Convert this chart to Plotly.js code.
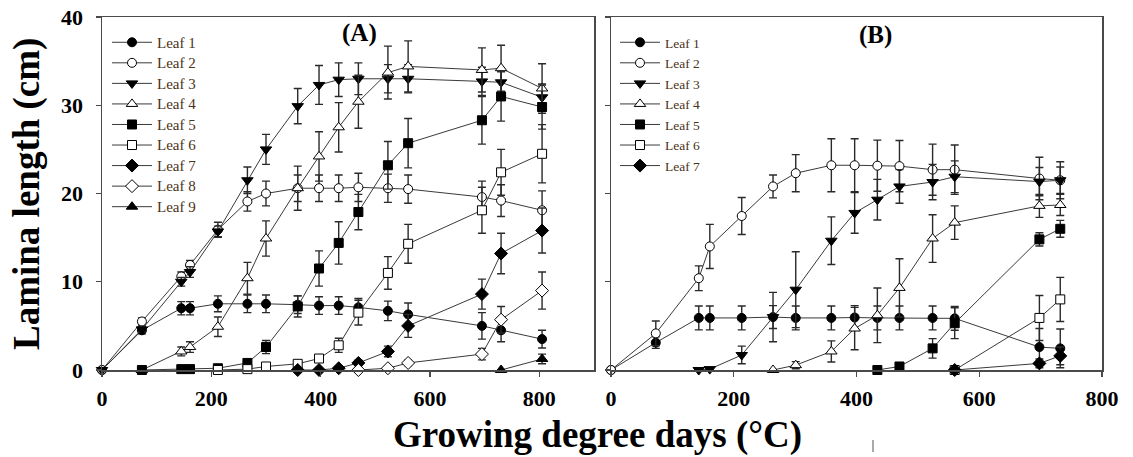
<!DOCTYPE html>
<html>
<head>
<meta charset="utf-8">
<script src="https://cdn.plot.ly/plotly-3.0.1.min.js"></script>
<style>
  html, body { margin: 0; padding: 0; background: #fff; }
  #chart { width: 1133px; height: 457px; }
</style>
</head>
<body>
<div id="chart"></div>
<script>
// Lamina length (cm) of successive leaves against growing degree days (°C)
// Panel A and panel B; values are means, errors are half-widths of the bars.

const leafNames = ["Leaf 1", "Leaf 2", "Leaf 3", "Leaf 4", "Leaf 5", "Leaf 6", "Leaf 7", "Leaf 8", "Leaf 9"];

// ---- Panel A ----
const aLeaf1X = [0, 73, 145, 161, 212, 266, 300, 358, 397, 433, 469, 523, 560, 695, 730, 805];
const aLeaf1Y = [0, 4.5, 7.0, 7.0, 7.5, 7.5, 7.5, 7.4, 7.3, 7.3, 7.1, 6.7, 6.3, 5.0, 4.5, 3.5];
const aLeaf1E = [0, 0.4, 0.75, 0.75, 0.9, 1.0, 1.0, 1.0, 1.0, 1.0, 1.0, 1.1, 1.3, 1.5, 1.3, 1.0];

const aLeaf2X = [0, 73, 145, 161, 212, 266, 300, 358, 397, 433, 469, 523, 560, 695, 730, 805];
const aLeaf2Y = [0, 5.5, 10.6, 11.9, 15.9, 19.1, 20.0, 20.6, 20.6, 20.6, 20.7, 20.6, 20.5, 19.6, 19.2, 18.1];
const aLeaf2E = [0, 0.4, 0.5, 0.5, 0.85, 1.1, 1.4, 1.5, 1.5, 1.5, 1.6, 1.6, 1.6, 1.8, 1.8, 2.2];

const aLeaf3X = [0, 73, 145, 161, 212, 266, 300, 358, 397, 433, 469, 523, 560, 695, 730, 805];
const aLeaf3Y = [0, 4.6, 10.0, 11.1, 15.7, 21.5, 25.0, 29.9, 32.3, 32.9, 33.0, 33.0, 33.0, 32.7, 32.6, 30.9];
const aLeaf3E = [0, 0.3, 0.5, 0.6, 0.6, 1.5, 1.7, 2.0, 2.2, 1.9, 1.8, 1.6, 1.6, 1.6, 1.6, 1.5];

const aLeaf4X = [73, 145, 161, 212, 266, 300, 358, 397, 433, 469, 523, 560, 695, 730, 805];
const aLeaf4Y = [0, 2.1, 2.6, 4.9, 10.4, 14.9, 20.6, 24.2, 27.5, 30.4, 33.7, 34.4, 34.0, 34.2, 31.9];
const aLeaf4E = [0, 0.5, 0.6, 1.1, 1.8, 2.0, 2.5, 2.8, 2.8, 3.0, 3.0, 2.9, 2.5, 2.6, 2.8];

const aLeaf5X = [73, 145, 161, 212, 266, 300, 358, 397, 433, 469, 523, 560, 695, 730, 805];
const aLeaf5Y = [0, 0.1, 0.1, 0.2, 0.8, 2.6, 7.2, 11.5, 14.4, 17.9, 23.2, 25.7, 28.3, 31.0, 29.8];
const aLeaf5E = [0, 0, 0, 0.1, 0.3, 0.75, 1.2, 2.0, 2.4, 2.0, 2.7, 2.8, 2.7, 2.8, 2.5];

const aLeaf6X = [212, 266, 300, 358, 397, 433, 469, 523, 560, 695, 730, 805];
const aLeaf6Y = [0, 0.1, 0.4, 0.7, 1.3, 2.8, 6.5, 11.0, 14.3, 18.1, 22.4, 24.5];
const aLeaf6E = [0, 0.1, 0.2, 0.3, 0.4, 0.8, 1.4, 1.85, 2.2, 2.6, 2.6, 3.3];

const aLeaf7X = [358, 397, 433, 469, 523, 560, 695, 730, 805];
const aLeaf7Y = [0, 0, 0.2, 0.8, 2.1, 5.0, 8.6, 13.2, 15.8];
const aLeaf7E = [0, 0, 0.1, 0.3, 0.6, 1.3, 1.7, 2.3, 2.55];

const aLeaf8X = [469, 523, 560, 695, 730, 805];
const aLeaf8Y = [0, 0.2, 0.8, 1.8, 5.7, 9.0];
const aLeaf8E = [0, 0.1, 0.3, 0.65, 1.5, 2.1];

const aLeaf9X = [730, 805];
const aLeaf9Y = [0, 1.25];
const aLeaf9E = [0, 0.55];

// ---- Panel B ----
const bLeaf1X = [0, 73, 143, 161, 213, 264, 301, 359, 397, 434, 470, 524, 560, 698, 732];
const bLeaf1Y = [0, 3.1, 5.9, 5.9, 5.9, 6.0, 5.9, 5.9, 5.95, 5.9, 5.9, 5.9, 5.85, 2.6, 2.45];
const bLeaf1E = [0, 0.65, 1.35, 1.35, 1.35, 1.3, 1.35, 1.35, 1.35, 1.35, 1.35, 1.35, 1.35, 2.1, 2.2];

const bLeaf2X = [0, 73, 143, 161, 213, 264, 301, 359, 397, 434, 470, 524, 560, 698, 732];
const bLeaf2Y = [0, 4.15, 10.4, 14.0, 17.45, 20.8, 22.3, 23.2, 23.2, 23.15, 23.1, 22.7, 22.7, 21.7, 21.5];
const bLeaf2E = [0, 1.4, 1.4, 2.5, 2.1, 1.3, 2.1, 3.0, 3.0, 2.9, 2.9, 2.9, 2.8, 2.4, 2.1];

const bLeaf3X = [143, 161, 213, 264, 301, 359, 397, 434, 470, 524, 560, 698, 732];
const bLeaf3Y = [0, 0.1, 1.7, 6.0, 9.1, 14.65, 17.8, 19.3, 20.8, 21.3, 21.9, 21.35, 21.5];
const bLeaf3E = [0, 0, 1.0, 2.8, 4.3, 2.7, 2.3, 2.3, 1.9, 2.0, 1.8, 1.6, 1.5];

const bLeaf4X = [264, 301, 359, 397, 434, 470, 524, 560, 698, 732];
const bLeaf4Y = [0, 0.55, 2.1, 4.7, 6.2, 9.3, 14.9, 16.7, 18.6, 18.7];
const bLeaf4E = [0, 0.4, 1.2, 2.4, 3.1, 3.3, 2.7, 1.9, 1.3, 1.2];

const bLeaf5X = [434, 470, 524, 560, 698, 732];
const bLeaf5Y = [0, 0.4, 2.45, 5.3, 14.8, 16.0];
const bLeaf5E = [0, 0.2, 1.1, 1.75, 0.75, 0.95];

const bLeaf6X = [560, 698, 732];
const bLeaf6Y = [0, 5.9, 8.0];
const bLeaf6E = [0, 2.55, 2.5];

const bLeaf7X = [560, 698, 732];
const bLeaf7Y = [0, 0.75, 1.6];
const bLeaf7E = [0, 0.5, 1.0];

const xTicks = [0, 200, 400, 600, 800];
const yTicks = [0, 10, 20, 30, 40];

// marker look per leaf: symbol, filled?, size
const leafStyle = [
  {symbol: "circle",        filled: true,  size: 9},
  {symbol: "circle",        filled: false, size: 9},
  {symbol: "triangle-down", filled: true,  size: 10},
  {symbol: "triangle-up",   filled: false, size: 10},
  {symbol: "square",        filled: true,  size: 9},
  {symbol: "square",        filled: false, size: 9},
  {symbol: "diamond",       filled: true,  size: 10},
  {symbol: "diamond",       filled: false, size: 10},
  {symbol: "triangle-up",   filled: true,  size: 10}
];

const panelA = [
  [aLeaf1X, aLeaf1Y, aLeaf1E], [aLeaf2X, aLeaf2Y, aLeaf2E], [aLeaf3X, aLeaf3Y, aLeaf3E],
  [aLeaf4X, aLeaf4Y, aLeaf4E], [aLeaf5X, aLeaf5Y, aLeaf5E], [aLeaf6X, aLeaf6Y, aLeaf6E],
  [aLeaf7X, aLeaf7Y, aLeaf7E], [aLeaf8X, aLeaf8Y, aLeaf8E], [aLeaf9X, aLeaf9Y, aLeaf9E]
];
const panelB = [
  [bLeaf1X, bLeaf1Y, bLeaf1E], [bLeaf2X, bLeaf2Y, bLeaf2E], [bLeaf3X, bLeaf3Y, bLeaf3E],
  [bLeaf4X, bLeaf4Y, bLeaf4E], [bLeaf5X, bLeaf5Y, bLeaf5E], [bLeaf6X, bLeaf6Y, bLeaf6E],
  [bLeaf7X, bLeaf7Y, bLeaf7E]
];

function makeTrace(series, i, xa, ya, legendId) {
  const st = leafStyle[i];
  return {
    type: "scatter",
    mode: "lines+markers",
    name: leafNames[i],
    x: series[0],
    y: series[1],
    xaxis: xa,
    yaxis: ya,
    legend: legendId,
    cliponaxis: false,
    line: {color: "#3a3a3a", width: 1},
    marker: {
      symbol: st.symbol,
      size: st.size,
      color: st.filled ? "#000000" : "#ffffff",
      line: {color: "#000000", width: 1}
    },
    error_y: {
      type: "data",
      array: series[2].map(v => v > 0 ? v : NaN),
      visible: true,
      color: "#2a2a2a",
      thickness: 1.4,
      width: 4
    }
  };
}

const traces = [];
panelA.forEach((s, i) => traces.push(makeTrace(s, i, "x", "y", "legend")));
panelB.forEach((s, i) => traces.push(makeTrace(s, i, "x2", "y2", "legend2")));

const W = 1133, H = 457;
const px = v => v / W;
const py = v => (H - v) / H;

const serif = "Liberation Serif";
const tickFont = {family: serif, size: 22, color: "#000", weight: "bold"};

const axisCommon = {
  showgrid: false,
  zeroline: false,
  showline: true,
  linecolor: "#4a4a4a",
  linewidth: 1.5,
  mirror: true,
  ticks: "outside",
  ticklen: 5,
  tickwidth: 1.2,
  tickcolor: "#4a4a4a"
};

// legend rows are spaced by this size; entry text is drawn a little larger
const legendRowFont = 13.5;
const legendTextPx = 15;

const legendCommon = {
  bgcolor: "rgba(0,0,0,0)",
  borderwidth: 0,
  font: {family: serif, size: legendRowFont, color: "#4a3318"},
  xanchor: "left",
  yanchor: "top",
  tracegroupgap: 0,
  itemwidth: 40
};

function label(text, x, y, size, angle) {
  return {
    text: text, xref: "paper", yref: "paper", x: px(x), y: py(y),
    xanchor: "center", yanchor: "middle", showarrow: false,
    textangle: angle || 0,
    font: {family: serif, size: size, color: "#000"}
  };
}

const layout = {
  width: W,
  height: H,
  margin: {l: 0, r: 0, t: 0, b: 0},
  paper_bgcolor: "#ffffff",
  plot_bgcolor: "#ffffff",
  showlegend: true,
  xaxis: Object.assign({}, axisCommon, {
    domain: [px(102), px(594)], range: [0, 900],
    tickvals: xTicks, ticktext: xTicks.map(String),
    tickfont: tickFont, ticklabelstandoff: 3, anchor: "y"
  }),
  yaxis: Object.assign({}, axisCommon, {
    domain: [py(370), py(17)], range: [0, 40],
    tickvals: yTicks, ticktext: yTicks.map(String),
    tickfont: tickFont, ticklabelstandoff: 8, anchor: "x"
  }),
  xaxis2: Object.assign({}, axisCommon, {
    domain: [px(611), px(1102)], range: [0, 800],
    tickvals: xTicks, ticktext: xTicks.map(String),
    tickfont: tickFont, ticklabelstandoff: 3, anchor: "y2"
  }),
  yaxis2: Object.assign({}, axisCommon, {
    domain: [py(370), py(17)], range: [0, 40],
    tickvals: yTicks, showticklabels: false, anchor: "x2"
  }),
  legend: Object.assign({}, legendCommon, {x: px(107), y: py(27)}),
  legend2: Object.assign({}, legendCommon, {x: px(615), y: py(27)}),
  annotations: [
    label("<b>(A)</b>", 359, 33, 25),
    label("<b>(B)</b>", 875, 35, 25),
    label("<b>Growing degree days (°C)</b>", 598, 435, 37),
    label("<b>Lamina length (cm)</b>", 27, 194, 37, -90)
  ],
  shapes: [
    {type: "line", xref: "paper", yref: "paper",
     x0: px(873), x1: px(873), y0: py(440), y1: py(452),
     line: {color: "#555", width: 1}}
  ]
};

Plotly.newPlot("chart", traces, layout, {displayModeBar: false, staticPlot: true})
  .then(gd => {
    gd.querySelectorAll(".legendtext").forEach(t => {
      t.style.fontSize = legendTextPx + "px";
    });
  });
</script>
</body>
</html>
